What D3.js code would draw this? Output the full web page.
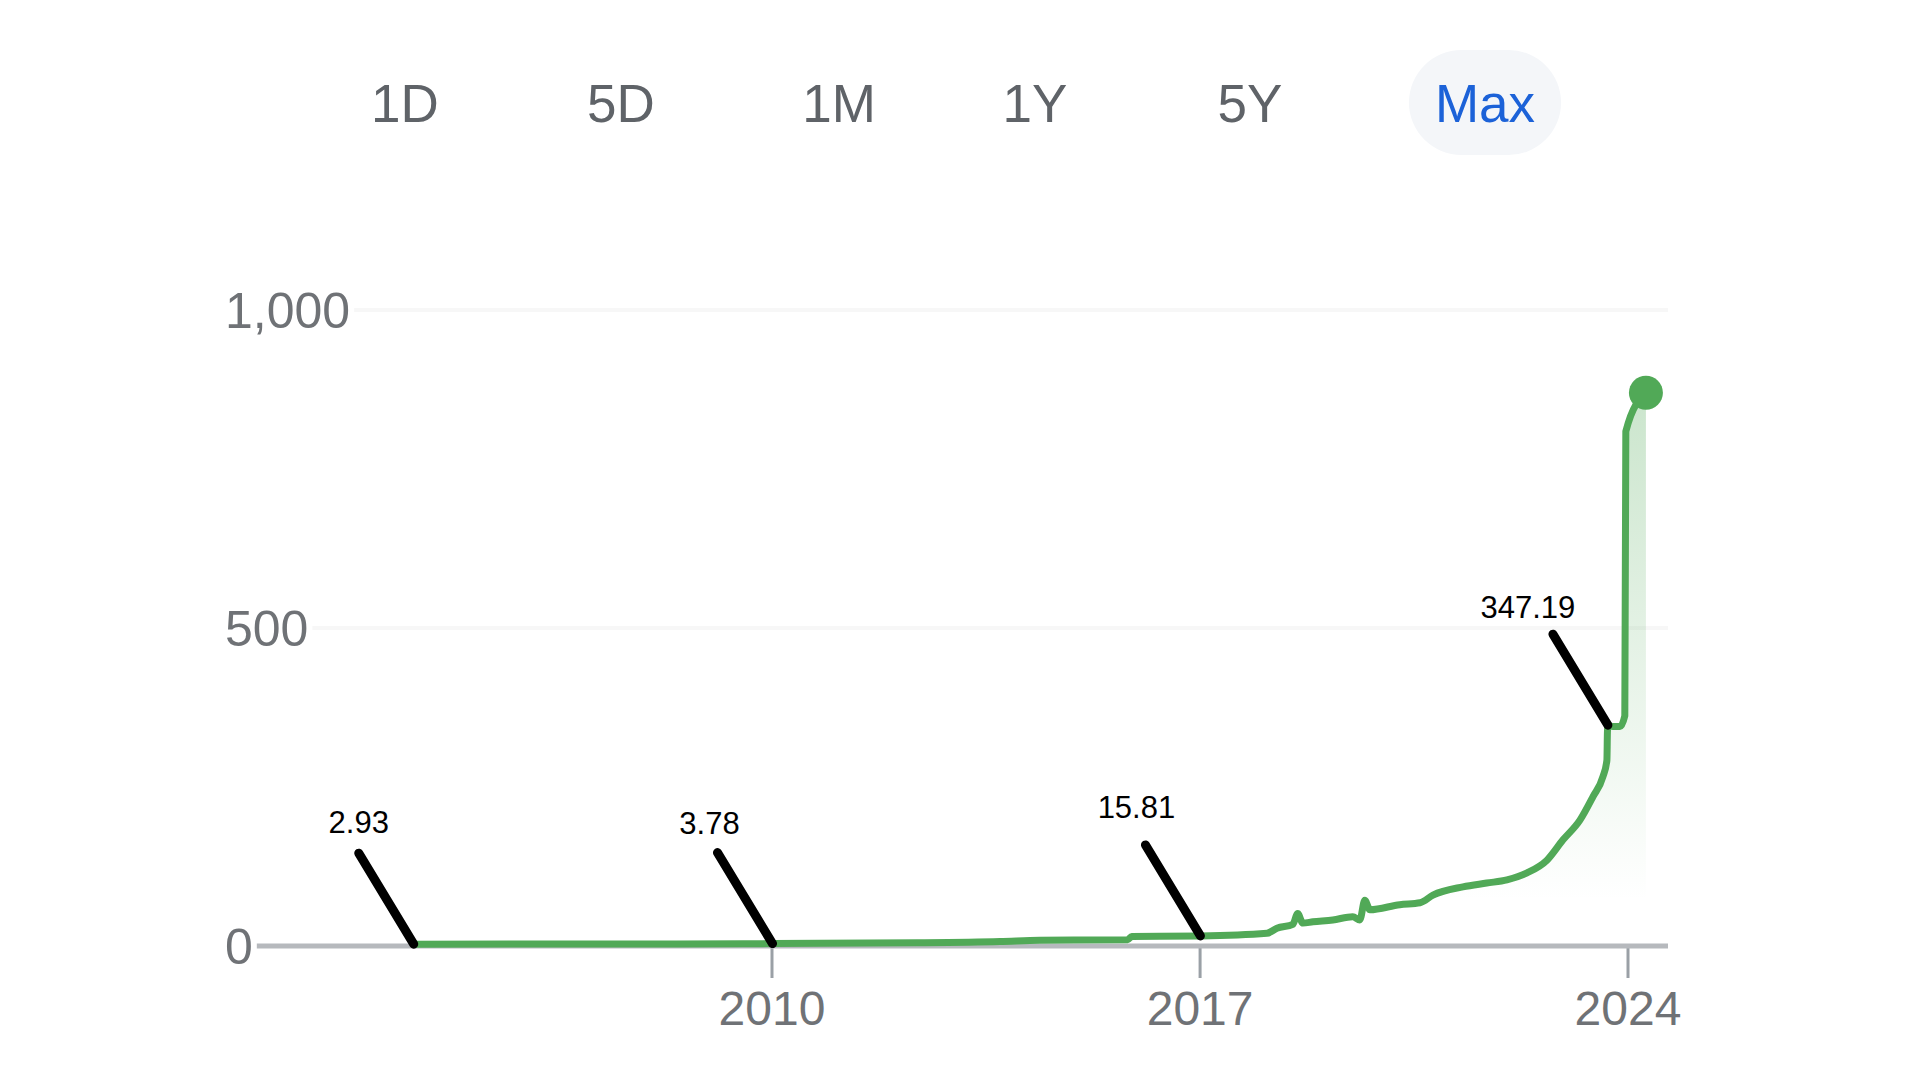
<!DOCTYPE html>
<html>
<head>
<meta charset="utf-8">
<script src="https://cdn.jsdelivr.net/npm/d3@7"></script>
<style>
  html, body { margin: 0; background: #fff; }
  svg { display: block; font-family: "Liberation Sans", Arial, sans-serif; }
</style>
</head>
<body>
<svg id="chart" width="1920" height="1080"></svg>
<script>
// range selector
const RANGES = ["1D", "5D", "1M", "1Y", "5Y", "Max"];
const ACTIVE_RANGE = "Max";

// price series
const PRICE_DATES = [
  "2004-02-22", "2006-06-01", "2008-06-02", "2010-01-04", "2012-05-21",
  "2013-09-24", "2014-05-19", "2015-10-27", "2015-11-20", "2017-01-03",
  "2018-02-05", "2018-04-05", "2018-07-09", "2018-08-07", "2018-09-07",
  "2018-11-06", "2019-03-05", "2019-07-02", "2019-08-13", "2019-09-12",
  "2019-10-12", "2020-04-08", "2020-08-07", "2020-10-23", "2021-04-20",
  "2021-09-09", "2022-01-08", "2022-05-08", "2022-09-04", "2022-12-09",
  "2023-03-20", "2023-06-06", "2023-08-04", "2023-08-28", "2023-08-31",
  "2023-09-03", "2023-10-03", "2023-11-14", "2023-12-13", "2023-12-19",
  "2024-04-17"
];
const PRICE_VALUES = [
  2.93, 3.3, 3.1, 3.78, 5,
  7, 9, 10, 15, 15.81,
  20, 28, 34, 51, 36,
  38, 41, 46, 41, 72,
  57, 65, 68, 80, 93,
  99, 104, 115, 135, 167,
  198, 235, 266, 292, 335,
  347.19, 345, 345, 362, 809,
  870
];

const Y_TICKS = [0, 500, 1000];
const X_TICK_YEARS = [2010, 2017, 2024];

// hand-drawn callouts
const NOTE_DATES = ["2004-02-22", "2010-01-04", "2017-01-03", "2023-09-03"];
const NOTE_VALUES = [2.93, 3.78, 15.81, 347.19];
const NOTE_LABELS = ["2.93", "3.78", "15.81", "347.19"];

// layout
const PLOT = { left: 245, right: 1668 };
const BTN_X = [405, 621, 839, 1035, 1250, 1485];
const GREEN = "#51a957";
const GREY_TEXT = "#6f7276";
const NOTE_OFFSET = [-55, -91];
const NOTE_LABEL_NUDGE = [[0, -20], [-8, -19], [-9, -27], [-25, -16]];

const parse = d3.timeParse("%Y-%m-%d");
const series = PRICE_DATES.map((d, i) => ({ date: parse(d), value: PRICE_VALUES[i] }));
const notes = NOTE_DATES.map((d, i) => ({ date: parse(d), value: NOTE_VALUES[i], label: NOTE_LABELS[i] }));

const x = d3.scaleTime()
  .domain([new Date(2010, 0, 1), new Date(2024, 0, 1)])
  .range([772, 1628]);
const y = d3.scaleLinear()
  .domain([0, d3.max(Y_TICKS)])
  .range([946, 310]);

const svg = d3.select("#chart");

// --- range buttons ---
const btnG = svg.append("g");
RANGES.forEach((r, i) => {
  const active = r === ACTIVE_RANGE;
  const t = btnG.append("text")
    .attr("x", BTN_X[i]).attr("y", 122)
    .attr("text-anchor", "middle")
    .attr("font-size", 53)
    .attr("fill", active ? "#1c62d8" : "#5f6368")
    .text(r);
  if (active) {
    const w = t.node().getComputedTextLength();
    btnG.insert("rect", "text")
      .attr("x", BTN_X[i] - w / 2 - 26).attr("y", 50)
      .attr("width", w + 52).attr("height", 105)
      .attr("rx", 52.5)
      .attr("fill", "#f4f6f9");
  }
});

// --- grid ---
const defs = svg.append("defs");
const grad = defs.append("linearGradient").attr("id", "area-grad")
  .attr("gradientUnits", "userSpaceOnUse")
  .attr("x1", 0).attr("x2", 0)
  .attr("y1", y(d3.max(PRICE_VALUES))).attr("y2", 900);
grad.append("stop").attr("offset", "0%").attr("stop-color", GREEN).attr("stop-opacity", 0.3);
grad.append("stop").attr("offset", "100%").attr("stop-color", GREEN).attr("stop-opacity", 0);

svg.append("g").selectAll("line")
  .data(Y_TICKS.filter(v => v !== 0))
  .join("line")
  .attr("x1", PLOT.left).attr("x2", PLOT.right)
  .attr("y1", d => y(d)).attr("y2", d => y(d))
  .attr("stroke", "#f7f7f7").attr("stroke-width", 4);

// x ticks
const xAxisG = svg.append("g");
xAxisG.selectAll("line")
  .data(X_TICK_YEARS)
  .join("line")
  .attr("x1", d => x(new Date(d, 0, 1))).attr("x2", d => x(new Date(d, 0, 1)))
  .attr("y1", y(0)).attr("y2", y(0) + 32)
  .attr("stroke", "#9aa0a6").attr("stroke-width", 3);
xAxisG.selectAll("text")
  .data(X_TICK_YEARS)
  .join("text")
  .attr("x", d => x(new Date(d, 0, 1)))
  .attr("y", 1025)
  .attr("text-anchor", "middle")
  .attr("font-size", 48)
  .attr("fill", GREY_TEXT)
  .text(d => d);

// baseline
svg.append("line")
  .attr("x1", PLOT.left).attr("x2", PLOT.right)
  .attr("y1", y(0)).attr("y2", y(0))
  .attr("stroke", "#b6b9bd").attr("stroke-width", 5);

// y labels sit on a white patch that hides the gridline start
const yLab = svg.append("g").selectAll("g")
  .data(Y_TICKS)
  .join("g");
yLab.append("text")
  .attr("x", 225).attr("y", d => y(d) + 18)
  .attr("font-size", 50)
  .attr("fill", GREY_TEXT)
  .text(d => d3.format(",")(d));
yLab.each(function () {
  const t = d3.select(this).select("text");
  const b = t.node().getBBox();
  d3.select(this).insert("rect", "text")
    .attr("x", b.x - 4).attr("y", b.y)
    .attr("width", b.width + 8).attr("height", b.height)
    .attr("fill", "#fff");
});

// --- price area + line ---
svg.append("path")
  .datum(series)
  .attr("d", d3.area().curve(d3.curveMonotoneX).x(d => x(d.date)).y0(y(0)).y1(d => y(d.value)))
  .attr("fill", "url(#area-grad)");

svg.append("path")
  .datum(series)
  .attr("d", d3.line().curve(d3.curveMonotoneX).x(d => x(d.date)).y(d => y(d.value)))
  .attr("fill", "none")
  .attr("stroke", GREEN)
  .attr("stroke-width", 7)
  .attr("stroke-linejoin", "round")
  .attr("stroke-linecap", "round");

const last = series[series.length - 1];
svg.append("circle")
  .attr("cx", x(last.date)).attr("cy", y(last.value))
  .attr("r", 17)
  .attr("fill", GREEN);

// --- callouts ---
const noteG = svg.append("g").selectAll("g")
  .data(notes)
  .join("g");
noteG.append("line")
  .attr("x1", d => x(d.date) + NOTE_OFFSET[0])
  .attr("y1", d => y(d.value) + NOTE_OFFSET[1])
  .attr("x2", d => x(d.date))
  .attr("y2", d => y(d.value))
  .attr("stroke", "#000")
  .attr("stroke-width", 9)
  .attr("stroke-linecap", "round");
noteG.append("text")
  .attr("x", (d, i) => x(d.date) + NOTE_OFFSET[0] + NOTE_LABEL_NUDGE[i][0])
  .attr("y", (d, i) => y(d.value) + NOTE_OFFSET[1] + NOTE_LABEL_NUDGE[i][1])
  .attr("text-anchor", "middle")
  .attr("font-size", 31)
  .attr("fill", "#000")
  .text(d => d.label);
</script>
</body>
</html>
